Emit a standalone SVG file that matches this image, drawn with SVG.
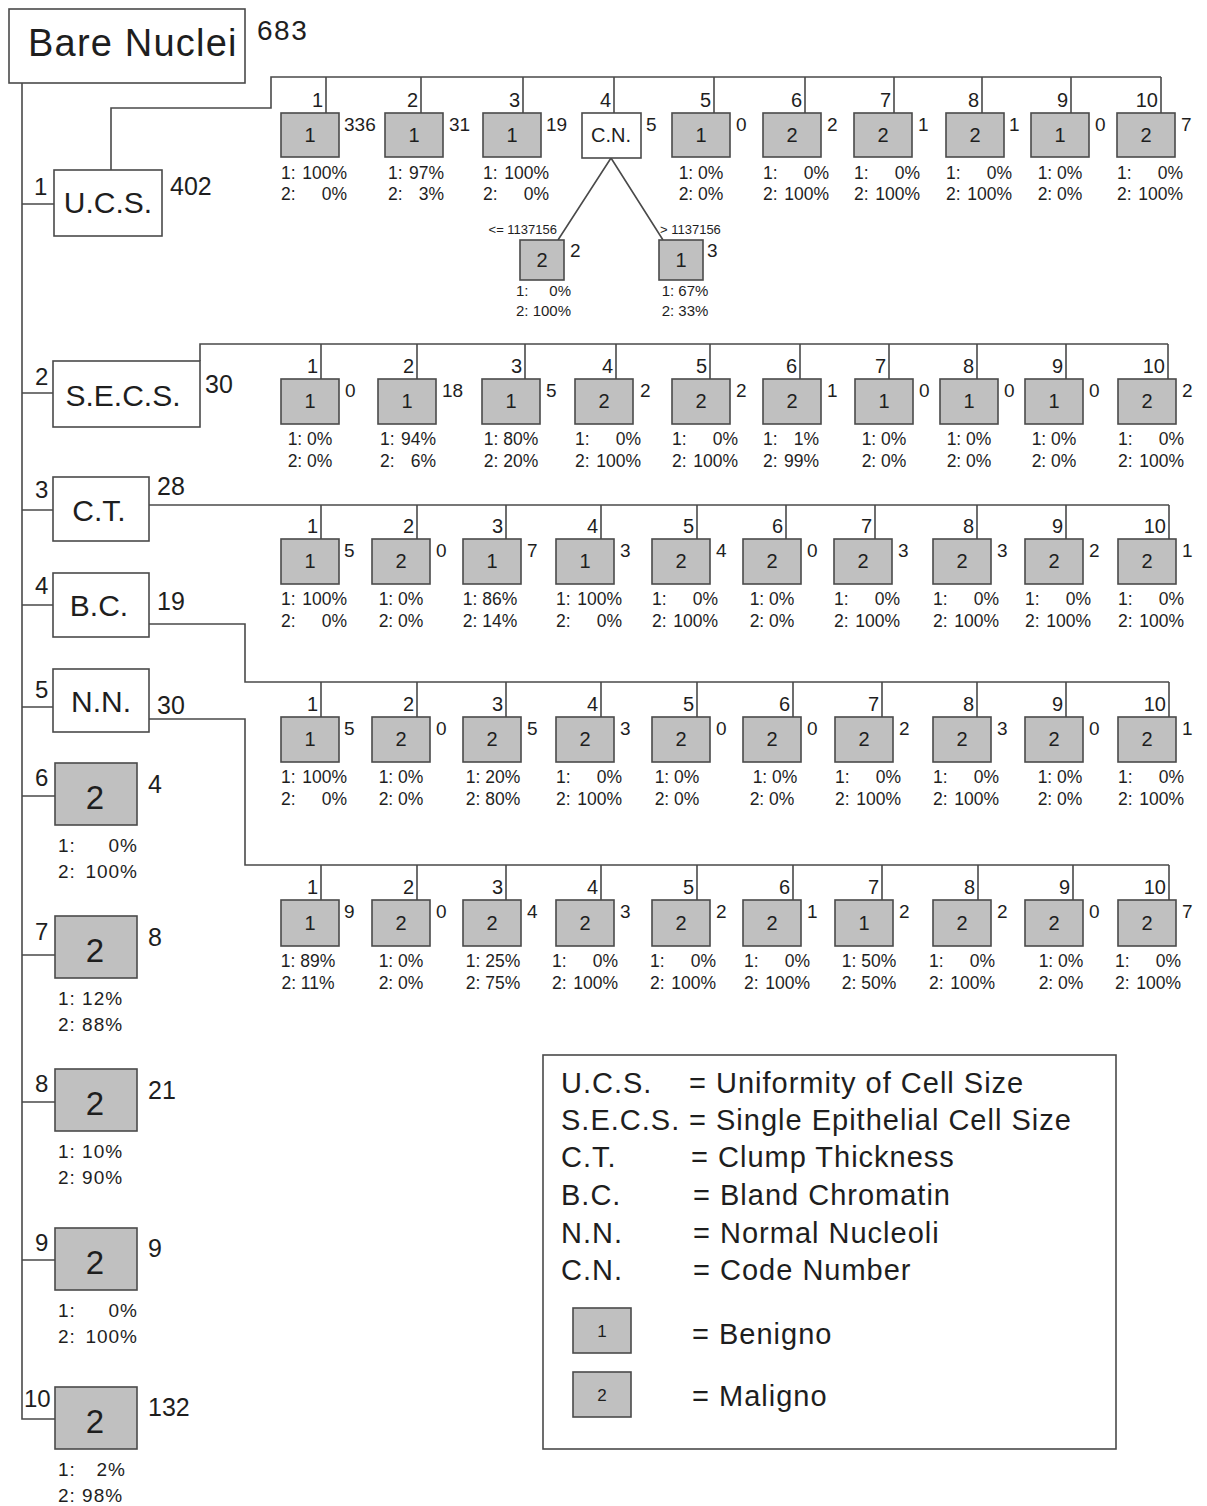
<svg xmlns="http://www.w3.org/2000/svg" width="1207" height="1506" viewBox="0 0 1207 1506">
<style>
text{font-family:"Liberation Sans",Arial,sans-serif;fill:#1e1e1e}
.ln{fill:none;stroke:#4a4a4a;stroke-width:1.6}
.lf{fill:#c0c0c0;stroke:#4a4a4a;stroke-width:1.6}
.nd{fill:#fff;stroke:#4a4a4a;stroke-width:1.6}
.k{font-size:20px;text-anchor:end}
.c{font-size:19px}
.v{font-size:20px;text-anchor:middle}
.p{font-size:17.5px}
.pe{font-size:17.5px;text-anchor:end}
.pm{font-size:17.5px;text-anchor:middle}
.big{font-size:33px;text-anchor:middle}
.lbl{font-size:24px}
.cnt{font-size:25px}
.lp{font-size:19px;letter-spacing:1px}
.lpe{font-size:19px;letter-spacing:1px;text-anchor:end}
.hd{font-size:30px;text-anchor:middle}
.s{font-size:13px}
.sp{font-size:15px}
.spe{font-size:15px;text-anchor:end}
.spm{font-size:15px;text-anchor:middle}
.leg{font-size:29px;letter-spacing:1px}
</style>
<rect width="1207" height="1506" fill="#fff"/>
<g id="connectors" class="ln">
<path d="M22 83V1419H55"/>
<path d="M22 204H54M22 393H53M22 510H53M22 605H53M22 707H53M22 796H55M22 955H55M22 1102H55M22 1260H55"/>
<path d="M111 170V108H271V77H1161"/>
<path d="M326 77V113M421 77V113M523 77V113M614 77V113M714 77V113M805 77V113M894 77V113M982 77V113M1071 77V113M1161 77V113"/>
<path d="M611 158L558 240M611 158L663 240"/>
<path d="M200 361V344H1168"/>
<path d="M321 344V379M417 344V379M525 344V379M616 344V379M710 344V379M800 344V379M889 344V379M977 344V379M1066 344V379M1168 344V379"/>
<path d="M149 505H1169"/>
<path d="M321 505V539M417 505V539M506 505V539M601 505V539M697 505V539M786 505V539M875 505V539M977 505V539M1066 505V539M1169 505V539"/>
<path d="M149 624H245V682H1169"/>
<path d="M321 682V717M417 682V717M506 682V717M601 682V717M697 682V717M793 682V717M882 682V717M977 682V717M1066 682V717M1169 682V717"/>
<path d="M149 719H245V865H1169"/>
<path d="M321 865V900M417 865V900M506 865V900M601 865V900M697 865V900M793 865V900M882 865V900M978 865V900M1073 865V900M1169 865V900"/>
</g>
<g id="root"><rect class="nd" x="9" y="9" width="236" height="74"/><text x="28" y="56" font-size="38" letter-spacing="1.2">Bare Nuclei</text><text x="257" y="40" font-size="28" letter-spacing="1.5">683</text></g>
<g id="ucs"><rect class="nd" x="54" y="170" width="108" height="66"/><text class="hd" x="108" y="213">U.C.S.</text><text class="lbl" x="34" y="195">1</text><text class="cnt" x="170" y="195">402</text></g>
<g id="secs"><rect class="nd" x="53" y="361" width="147" height="66"/><text class="hd" x="123" y="406">S.E.C.S.</text><text class="lbl" x="35" y="385">2</text><text class="cnt" x="205" y="393">30</text></g>
<g id="ct"><rect class="nd" x="53" y="477" width="96" height="64"/><text class="hd" x="99" y="521">C.T.</text><text class="lbl" x="35" y="498">3</text><text class="cnt" x="157" y="495">28</text></g>
<g id="bc"><rect class="nd" x="53" y="573" width="96" height="64"/><text class="hd" x="99" y="616">B.C.</text><text class="lbl" x="35" y="594">4</text><text class="cnt" x="157" y="610">19</text></g>
<g id="nn"><rect class="nd" x="53" y="669" width="96" height="63"/><text class="hd" x="101" y="712">N.N.</text><text class="lbl" x="35" y="698">5</text><text class="cnt" x="157" y="714">30</text></g>

<g id="ucs-1"><rect class="lf" x="281" y="113" width="58" height="44"/><text class="v" x="310" y="142">1</text><text class="c" x="344" y="131">336</text><text class="k" x="323" y="107">1</text><text class="p" x="281" y="179">1:</text><text class="pe" x="347" y="179">100%</text><text class="p" x="281" y="200">2:</text><text class="pe" x="347" y="200">0%</text></g>
<g id="ucs-2"><rect class="lf" x="385" y="113" width="58" height="44"/><text class="v" x="414" y="142">1</text><text class="c" x="449" y="131">31</text><text class="k" x="418" y="107">2</text><text class="p" x="388" y="179">1:</text><text class="pe" x="444" y="179">97%</text><text class="p" x="388" y="200">2:</text><text class="pe" x="444" y="200">3%</text></g>
<g id="ucs-3"><rect class="lf" x="483" y="113" width="58" height="44"/><text class="v" x="512" y="142">1</text><text class="c" x="546" y="131">19</text><text class="k" x="520" y="107">3</text><text class="p" x="483" y="179">1:</text><text class="pe" x="549" y="179">100%</text><text class="p" x="483" y="200">2:</text><text class="pe" x="549" y="200">0%</text></g>
<g id="ucs-4"><rect class="nd" x="582" y="113" width="59" height="45"/><text class="v" x="611" y="142">C.N.</text><text class="c" x="646" y="131">5</text><text class="k" x="611" y="107">4</text></g>
<g id="cn-le"><rect class="lf" x="520" y="240" width="44" height="40"/><text class="v" x="542" y="267">2</text><text class="c" x="570" y="257">2</text><text class="s" x="557" y="234" text-anchor="end">&lt;= 1137156</text><text class="sp" x="516" y="296">1:</text><text class="spe" x="571" y="296">0%</text><text class="sp" x="516" y="316">2:</text><text class="spe" x="571" y="316">100%</text></g>
<g id="cn-gt"><rect class="lf" x="659" y="240" width="44" height="40"/><text class="v" x="681" y="267">1</text><text class="c" x="707" y="257">3</text><text class="s" x="660" y="234">&gt; 1137156</text><text class="spm" x="685" y="296">1: 67%</text><text class="spm" x="685" y="316">2: 33%</text></g>
<g id="ucs-5"><rect class="lf" x="672" y="113" width="58" height="44"/><text class="v" x="701" y="142">1</text><text class="c" x="736" y="131">0</text><text class="k" x="711" y="107">5</text><text class="pm" x="701" y="179">1: 0%</text><text class="pm" x="701" y="200">2: 0%</text></g>
<g id="ucs-6"><rect class="lf" x="763" y="113" width="58" height="44"/><text class="v" x="792" y="142">2</text><text class="c" x="827" y="131">2</text><text class="k" x="802" y="107">6</text><text class="p" x="763" y="179">1:</text><text class="pe" x="829" y="179">0%</text><text class="p" x="763" y="200">2:</text><text class="pe" x="829" y="200">100%</text></g>
<g id="ucs-7"><rect class="lf" x="854" y="113" width="58" height="44"/><text class="v" x="883" y="142">2</text><text class="c" x="918" y="131">1</text><text class="k" x="891" y="107">7</text><text class="p" x="854" y="179">1:</text><text class="pe" x="920" y="179">0%</text><text class="p" x="854" y="200">2:</text><text class="pe" x="920" y="200">100%</text></g>
<g id="ucs-8"><rect class="lf" x="946" y="113" width="58" height="44"/><text class="v" x="975" y="142">2</text><text class="c" x="1009" y="131">1</text><text class="k" x="979" y="107">8</text><text class="p" x="946" y="179">1:</text><text class="pe" x="1012" y="179">0%</text><text class="p" x="946" y="200">2:</text><text class="pe" x="1012" y="200">100%</text></g>
<g id="ucs-9"><rect class="lf" x="1031" y="113" width="58" height="44"/><text class="v" x="1060" y="142">1</text><text class="c" x="1095" y="131">0</text><text class="k" x="1068" y="107">9</text><text class="pm" x="1060" y="179">1: 0%</text><text class="pm" x="1060" y="200">2: 0%</text></g>
<g id="ucs-10"><rect class="lf" x="1117" y="113" width="58" height="44"/><text class="v" x="1146" y="142">2</text><text class="c" x="1181" y="131">7</text><text class="k" x="1158" y="107">10</text><text class="p" x="1117" y="179">1:</text><text class="pe" x="1183" y="179">0%</text><text class="p" x="1117" y="200">2:</text><text class="pe" x="1183" y="200">100%</text></g>

<g id="secs-1"><rect class="lf" x="281" y="379" width="58" height="45"/><text class="v" x="310" y="408">1</text><text class="c" x="345" y="397">0</text><text class="k" x="318" y="373">1</text><text class="pm" x="310" y="445">1: 0%</text><text class="pm" x="310" y="467">2: 0%</text></g>
<g id="secs-2"><rect class="lf" x="378" y="379" width="58" height="45"/><text class="v" x="407" y="408">1</text><text class="c" x="442" y="397">18</text><text class="k" x="414" y="373">2</text><text class="p" x="380" y="445">1:</text><text class="pe" x="436" y="445">94%</text><text class="p" x="380" y="467">2:</text><text class="pe" x="436" y="467">6%</text></g>
<g id="secs-3"><rect class="lf" x="482" y="379" width="58" height="45"/><text class="v" x="511" y="408">1</text><text class="c" x="546" y="397">5</text><text class="k" x="522" y="373">3</text><text class="pm" x="511" y="445">1: 80%</text><text class="pm" x="511" y="467">2: 20%</text></g>
<g id="secs-4"><rect class="lf" x="575" y="379" width="58" height="45"/><text class="v" x="604" y="408">2</text><text class="c" x="640" y="397">2</text><text class="k" x="613" y="373">4</text><text class="p" x="575" y="445">1:</text><text class="pe" x="641" y="445">0%</text><text class="p" x="575" y="467">2:</text><text class="pe" x="641" y="467">100%</text></g>
<g id="secs-5"><rect class="lf" x="672" y="379" width="58" height="45"/><text class="v" x="701" y="408">2</text><text class="c" x="736" y="397">2</text><text class="k" x="707" y="373">5</text><text class="p" x="672" y="445">1:</text><text class="pe" x="738" y="445">0%</text><text class="p" x="672" y="467">2:</text><text class="pe" x="738" y="467">100%</text></g>
<g id="secs-6"><rect class="lf" x="763" y="379" width="58" height="45"/><text class="v" x="792" y="408">2</text><text class="c" x="827" y="397">1</text><text class="k" x="797" y="373">6</text><text class="p" x="763" y="445">1:</text><text class="pe" x="819" y="445">1%</text><text class="p" x="763" y="467">2:</text><text class="pe" x="819" y="467">99%</text></g>
<g id="secs-7"><rect class="lf" x="855" y="379" width="58" height="45"/><text class="v" x="884" y="408">1</text><text class="c" x="919" y="397">0</text><text class="k" x="886" y="373">7</text><text class="pm" x="884" y="445">1: 0%</text><text class="pm" x="884" y="467">2: 0%</text></g>
<g id="secs-8"><rect class="lf" x="940" y="379" width="58" height="45"/><text class="v" x="969" y="408">1</text><text class="c" x="1004" y="397">0</text><text class="k" x="974" y="373">8</text><text class="pm" x="969" y="445">1: 0%</text><text class="pm" x="969" y="467">2: 0%</text></g>
<g id="secs-9"><rect class="lf" x="1025" y="379" width="58" height="45"/><text class="v" x="1054" y="408">1</text><text class="c" x="1089" y="397">0</text><text class="k" x="1063" y="373">9</text><text class="pm" x="1054" y="445">1: 0%</text><text class="pm" x="1054" y="467">2: 0%</text></g>
<g id="secs-10"><rect class="lf" x="1118" y="379" width="58" height="45"/><text class="v" x="1147" y="408">2</text><text class="c" x="1182" y="397">2</text><text class="k" x="1165" y="373">10</text><text class="p" x="1118" y="445">1:</text><text class="pe" x="1184" y="445">0%</text><text class="p" x="1118" y="467">2:</text><text class="pe" x="1184" y="467">100%</text></g>

<g id="ct-1"><rect class="lf" x="281" y="539" width="58" height="45"/><text class="v" x="310" y="568">1</text><text class="c" x="344" y="557">5</text><text class="k" x="318" y="533">1</text><text class="p" x="281" y="605">1:</text><text class="pe" x="347" y="605">100%</text><text class="p" x="281" y="627">2:</text><text class="pe" x="347" y="627">0%</text></g>
<g id="ct-2"><rect class="lf" x="372" y="539" width="58" height="45"/><text class="v" x="401" y="568">2</text><text class="c" x="436" y="557">0</text><text class="k" x="414" y="533">2</text><text class="pm" x="401" y="605">1: 0%</text><text class="pm" x="401" y="627">2: 0%</text></g>
<g id="ct-3"><rect class="lf" x="463" y="539" width="58" height="45"/><text class="v" x="492" y="568">1</text><text class="c" x="527" y="557">7</text><text class="k" x="503" y="533">3</text><text class="pm" x="490" y="605">1: 86%</text><text class="pm" x="490" y="627">2: 14%</text></g>
<g id="ct-4"><rect class="lf" x="556" y="539" width="58" height="45"/><text class="v" x="585" y="568">1</text><text class="c" x="620" y="557">3</text><text class="k" x="598" y="533">4</text><text class="p" x="556" y="605">1:</text><text class="pe" x="622" y="605">100%</text><text class="p" x="556" y="627">2:</text><text class="pe" x="622" y="627">0%</text></g>
<g id="ct-5"><rect class="lf" x="652" y="539" width="58" height="45"/><text class="v" x="681" y="568">2</text><text class="c" x="716" y="557">4</text><text class="k" x="694" y="533">5</text><text class="p" x="652" y="605">1:</text><text class="pe" x="718" y="605">0%</text><text class="p" x="652" y="627">2:</text><text class="pe" x="718" y="627">100%</text></g>
<g id="ct-6"><rect class="lf" x="743" y="539" width="58" height="45"/><text class="v" x="772" y="568">2</text><text class="c" x="807" y="557">0</text><text class="k" x="783" y="533">6</text><text class="pm" x="772" y="605">1: 0%</text><text class="pm" x="772" y="627">2: 0%</text></g>
<g id="ct-7"><rect class="lf" x="834" y="539" width="58" height="45"/><text class="v" x="863" y="568">2</text><text class="c" x="898" y="557">3</text><text class="k" x="872" y="533">7</text><text class="p" x="834" y="605">1:</text><text class="pe" x="900" y="605">0%</text><text class="p" x="834" y="627">2:</text><text class="pe" x="900" y="627">100%</text></g>
<g id="ct-8"><rect class="lf" x="933" y="539" width="58" height="45"/><text class="v" x="962" y="568">2</text><text class="c" x="997" y="557">3</text><text class="k" x="974" y="533">8</text><text class="p" x="933" y="605">1:</text><text class="pe" x="999" y="605">0%</text><text class="p" x="933" y="627">2:</text><text class="pe" x="999" y="627">100%</text></g>
<g id="ct-9"><rect class="lf" x="1025" y="539" width="58" height="45"/><text class="v" x="1054" y="568">2</text><text class="c" x="1089" y="557">2</text><text class="k" x="1063" y="533">9</text><text class="p" x="1025" y="605">1:</text><text class="pe" x="1091" y="605">0%</text><text class="p" x="1025" y="627">2:</text><text class="pe" x="1091" y="627">100%</text></g>
<g id="ct-10"><rect class="lf" x="1118" y="539" width="58" height="45"/><text class="v" x="1147" y="568">2</text><text class="c" x="1182" y="557">1</text><text class="k" x="1166" y="533">10</text><text class="p" x="1118" y="605">1:</text><text class="pe" x="1184" y="605">0%</text><text class="p" x="1118" y="627">2:</text><text class="pe" x="1184" y="627">100%</text></g>

<g id="bc-1"><rect class="lf" x="281" y="717" width="58" height="45"/><text class="v" x="310" y="746">1</text><text class="c" x="344" y="735">5</text><text class="k" x="318" y="711">1</text><text class="p" x="281" y="783">1:</text><text class="pe" x="347" y="783">100%</text><text class="p" x="281" y="805">2:</text><text class="pe" x="347" y="805">0%</text></g>
<g id="bc-2"><rect class="lf" x="372" y="717" width="58" height="45"/><text class="v" x="401" y="746">2</text><text class="c" x="436" y="735">0</text><text class="k" x="414" y="711">2</text><text class="pm" x="401" y="783">1: 0%</text><text class="pm" x="401" y="805">2: 0%</text></g>
<g id="bc-3"><rect class="lf" x="463" y="717" width="58" height="45"/><text class="v" x="492" y="746">2</text><text class="c" x="527" y="735">5</text><text class="k" x="503" y="711">3</text><text class="pm" x="493" y="783">1: 20%</text><text class="pm" x="493" y="805">2: 80%</text></g>
<g id="bc-4"><rect class="lf" x="556" y="717" width="58" height="45"/><text class="v" x="585" y="746">2</text><text class="c" x="620" y="735">3</text><text class="k" x="598" y="711">4</text><text class="p" x="556" y="783">1:</text><text class="pe" x="622" y="783">0%</text><text class="p" x="556" y="805">2:</text><text class="pe" x="622" y="805">100%</text></g>
<g id="bc-5"><rect class="lf" x="652" y="717" width="58" height="45"/><text class="v" x="681" y="746">2</text><text class="c" x="716" y="735">0</text><text class="k" x="694" y="711">5</text><text class="pm" x="677" y="783">1: 0%</text><text class="pm" x="677" y="805">2: 0%</text></g>
<g id="bc-6"><rect class="lf" x="743" y="717" width="58" height="45"/><text class="v" x="772" y="746">2</text><text class="c" x="807" y="735">0</text><text class="k" x="790" y="711">6</text><text class="pm" x="775" y="783">1: 0%</text><text class="pm" x="772" y="805">2: 0%</text></g>
<g id="bc-7"><rect class="lf" x="835" y="717" width="58" height="45"/><text class="v" x="864" y="746">2</text><text class="c" x="899" y="735">2</text><text class="k" x="879" y="711">7</text><text class="p" x="835" y="783">1:</text><text class="pe" x="901" y="783">0%</text><text class="p" x="835" y="805">2:</text><text class="pe" x="901" y="805">100%</text></g>
<g id="bc-8"><rect class="lf" x="933" y="717" width="58" height="45"/><text class="v" x="962" y="746">2</text><text class="c" x="997" y="735">3</text><text class="k" x="974" y="711">8</text><text class="p" x="933" y="783">1:</text><text class="pe" x="999" y="783">0%</text><text class="p" x="933" y="805">2:</text><text class="pe" x="999" y="805">100%</text></g>
<g id="bc-9"><rect class="lf" x="1025" y="717" width="58" height="45"/><text class="v" x="1054" y="746">2</text><text class="c" x="1089" y="735">0</text><text class="k" x="1063" y="711">9</text><text class="pm" x="1060" y="783">1: 0%</text><text class="pm" x="1060" y="805">2: 0%</text></g>
<g id="bc-10"><rect class="lf" x="1118" y="717" width="58" height="45"/><text class="v" x="1147" y="746">2</text><text class="c" x="1182" y="735">1</text><text class="k" x="1166" y="711">10</text><text class="p" x="1118" y="783">1:</text><text class="pe" x="1184" y="783">0%</text><text class="p" x="1118" y="805">2:</text><text class="pe" x="1184" y="805">100%</text></g>

<g id="nn-1"><rect class="lf" x="281" y="900" width="58" height="46"/><text class="v" x="310" y="930">1</text><text class="c" x="344" y="918">9</text><text class="k" x="318" y="894">1</text><text class="pm" x="308" y="967">1: 89%</text><text class="pm" x="308" y="989">2: 11%</text></g>
<g id="nn-2"><rect class="lf" x="372" y="900" width="58" height="46"/><text class="v" x="401" y="930">2</text><text class="c" x="436" y="918">0</text><text class="k" x="414" y="894">2</text><text class="pm" x="401" y="967">1: 0%</text><text class="pm" x="401" y="989">2: 0%</text></g>
<g id="nn-3"><rect class="lf" x="463" y="900" width="58" height="46"/><text class="v" x="492" y="930">2</text><text class="c" x="527" y="918">4</text><text class="k" x="503" y="894">3</text><text class="pm" x="493" y="967">1: 25%</text><text class="pm" x="493" y="989">2: 75%</text></g>
<g id="nn-4"><rect class="lf" x="556" y="900" width="58" height="46"/><text class="v" x="585" y="930">2</text><text class="c" x="620" y="918">3</text><text class="k" x="598" y="894">4</text><text class="p" x="552" y="967">1:</text><text class="pe" x="618" y="967">0%</text><text class="p" x="552" y="989">2:</text><text class="pe" x="618" y="989">100%</text></g>
<g id="nn-5"><rect class="lf" x="652" y="900" width="58" height="46"/><text class="v" x="681" y="930">2</text><text class="c" x="716" y="918">2</text><text class="k" x="694" y="894">5</text><text class="p" x="650" y="967">1:</text><text class="pe" x="716" y="967">0%</text><text class="p" x="650" y="989">2:</text><text class="pe" x="716" y="989">100%</text></g>
<g id="nn-6"><rect class="lf" x="743" y="900" width="58" height="46"/><text class="v" x="772" y="930">2</text><text class="c" x="807" y="918">1</text><text class="k" x="790" y="894">6</text><text class="p" x="744" y="967">1:</text><text class="pe" x="810" y="967">0%</text><text class="p" x="744" y="989">2:</text><text class="pe" x="810" y="989">100%</text></g>
<g id="nn-7"><rect class="lf" x="835" y="900" width="58" height="46"/><text class="v" x="864" y="930">1</text><text class="c" x="899" y="918">2</text><text class="k" x="879" y="894">7</text><text class="pm" x="869" y="967">1: 50%</text><text class="pm" x="869" y="989">2: 50%</text></g>
<g id="nn-8"><rect class="lf" x="933" y="900" width="58" height="46"/><text class="v" x="962" y="930">2</text><text class="c" x="997" y="918">2</text><text class="k" x="975" y="894">8</text><text class="p" x="929" y="967">1:</text><text class="pe" x="995" y="967">0%</text><text class="p" x="929" y="989">2:</text><text class="pe" x="995" y="989">100%</text></g>
<g id="nn-9"><rect class="lf" x="1025" y="900" width="58" height="46"/><text class="v" x="1054" y="930">2</text><text class="c" x="1089" y="918">0</text><text class="k" x="1070" y="894">9</text><text class="pm" x="1061" y="967">1: 0%</text><text class="pm" x="1061" y="989">2: 0%</text></g>
<g id="nn-10"><rect class="lf" x="1118" y="900" width="58" height="46"/><text class="v" x="1147" y="930">2</text><text class="c" x="1182" y="918">7</text><text class="k" x="1166" y="894">10</text><text class="p" x="1115" y="967">1:</text><text class="pe" x="1181" y="967">0%</text><text class="p" x="1115" y="989">2:</text><text class="pe" x="1181" y="989">100%</text></g>

<g id="leaf-6"><rect class="lf" x="55" y="763" width="82" height="62"/><text class="big" x="95" y="809">2</text><text class="lbl" x="35" y="786">6</text><text class="cnt" x="148" y="793">4</text><text class="lp" x="58" y="852">1:</text><text class="lpe" x="138" y="852">0%</text><text class="lp" x="58" y="878">2:</text><text class="lpe" x="138" y="878">100%</text></g>
<g id="leaf-7"><rect class="lf" x="55" y="916" width="82" height="62"/><text class="big" x="95" y="962">2</text><text class="lbl" x="35" y="940">7</text><text class="cnt" x="148" y="946">8</text><text class="lp" x="58" y="1005">1: 12%</text><text class="lp" x="58" y="1031">2: 88%</text></g>
<g id="leaf-8"><rect class="lf" x="55" y="1069" width="82" height="62"/><text class="big" x="95" y="1115">2</text><text class="lbl" x="35" y="1092">8</text><text class="cnt" x="148" y="1099">21</text><text class="lp" x="58" y="1158">1: 10%</text><text class="lp" x="58" y="1184">2: 90%</text></g>
<g id="leaf-9"><rect class="lf" x="55" y="1228" width="82" height="62"/><text class="big" x="95" y="1274">2</text><text class="lbl" x="35" y="1251">9</text><text class="cnt" x="148" y="1257">9</text><text class="lp" x="58" y="1317">1:</text><text class="lpe" x="138" y="1317">0%</text><text class="lp" x="58" y="1343">2:</text><text class="lpe" x="138" y="1343">100%</text></g>
<g id="leaf-10"><rect class="lf" x="55" y="1387" width="82" height="62"/><text class="big" x="95" y="1433">2</text><text class="lbl" x="24" y="1407">10</text><text class="cnt" x="148" y="1416">132</text><text class="lp" x="58" y="1476">1:</text><text class="lpe" x="126" y="1476">2%</text><text class="lp" x="58" y="1502">2: 98%</text></g>

<g id="legend">
<rect x="543" y="1055" width="573" height="394" fill="#fff" stroke="#4a4a4a" stroke-width="1.6"/>
<text class="leg" x="561" y="1093">U.C.S.</text><text class="leg" x="689" y="1093">= Uniformity of Cell Size</text>
<text class="leg" x="561" y="1130">S.E.C.S.</text><text class="leg" x="689" y="1130">= Single Epithelial Cell Size</text>
<text class="leg" x="561" y="1167">C.T.</text><text class="leg" x="691" y="1167">= Clump Thickness</text>
<text class="leg" x="561" y="1205">B.C.</text><text class="leg" x="693" y="1205">= Bland Chromatin</text>
<text class="leg" x="561" y="1243">N.N.</text><text class="leg" x="693" y="1243">= Normal Nucleoli</text>
<text class="leg" x="561" y="1280">C.N.</text><text class="leg" x="693" y="1280">= Code Number</text>
<rect class="lf" x="573" y="1308" width="58" height="45"/><text x="602" y="1337" font-size="17" text-anchor="middle">1</text>
<text class="leg" x="692" y="1344">= Benigno</text>
<rect class="lf" x="573" y="1372" width="58" height="45"/><text x="602" y="1401" font-size="17" text-anchor="middle">2</text>
<text class="leg" x="692" y="1406">= Maligno</text>
</g>
</svg>
